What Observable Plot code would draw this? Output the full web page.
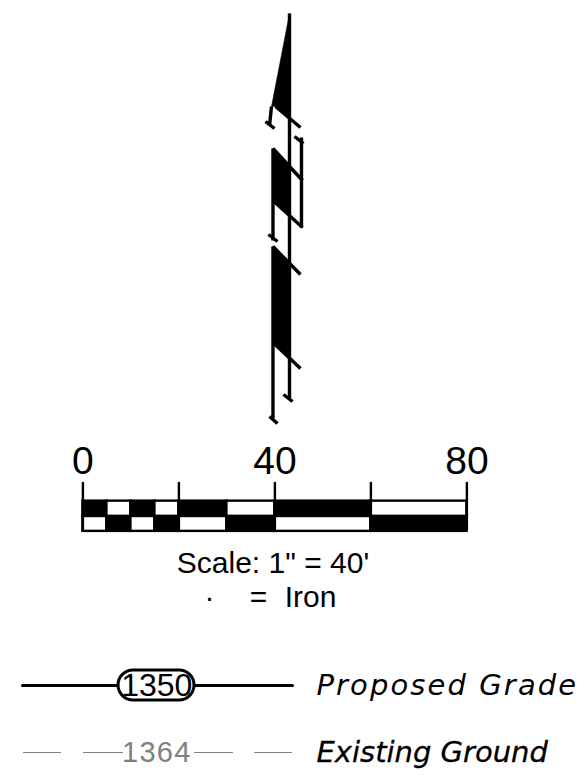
<!DOCTYPE html>
<html>
<head>
<meta charset="utf-8">
<script src="https://cdn.jsdelivr.net/npm/d3@7"></script>
<script src="https://cdn.jsdelivr.net/npm/@observablehq/plot@0.6"></script>
<style>
html,body{margin:0;padding:0;background:#fff}
svg{display:block}
</style>
</head>
<body>
<script>
// Drawing units are feet on the bar scale
const black = "#000";
const grey = "#808080";

// Filled cut regions
const cutAreas = [
  [[43.04,2.71],[39.29,22.08],[40.13,22.08],[43.04,24.79]],
  [[39.6,30.83],[43.04,35],[43.04,44.79],[39.6,41.67]],
  [[39.6,51.25],[43.04,54.79],[43.04,74.38],[39.6,71.25]]
];
// Line work
const sectionLines = [
  [[43.04,2.71],[43.04,82.92]],
  [[39.6,30.83],[39.6,50]],
  [[39.6,51.25],[39.6,87.08]],
  [[45.54,28.54],[45.54,47.29]],
  [[39.29,22.08],[38.88,26.04]],
  [[40.13,22.08],[45.33,26.46]],
  [[39.6,41.67],[45.75,47.29]],
  [[39.6,30.83],[45.75,37.5]],
  [[39.6,51.25],[45.33,57.08]],
  [[39.6,71.25],[45.33,76.67]],
  [[38.04,25.21],[39.92,26.67]],
  [[44.08,28.33],[45.96,29.79]],
  [[38.67,48.75],[40.54,50.21]],
  [[41.79,82.08],[43.67,83.54]],
  [[38.88,86.67],[40.54,88.13]]
];

// Bar scale
const scaleTicks = [0,20,40,60,80];
const scaleLabels = [0,40,80];
const cellStarts = [0,5,10,15,20,30,40,60];
const cellEnds   = [5,10,15,20,30,40,60,80];
const barTop = 104.3, barMid = 107.5, barBottom = 110.6, tickTop = 100.4;
const labelY = 96;

// Notes
const noteScale = "Scale: 1\" = 40'";
const noteSymbols = ["·","=","Iron"];
const noteSymbolX = [26.38,36.58,47.42];

// Legend
const proposedLine = [-12.58,43.67];
const proposedY = 142.7;
const pillX = [7.42,23.25], pillY = [139.58,145.83];
const existingSegs = [[-12.38,-4.67],[0.13,8.25],[23.25,31.17],[35.75,43.42]];
const existingY = 156.67;
const legendNames = ["Proposed Grade","Existing Ground"];
const legendNums = ["1350","1364"];
const textSpacing = {"Proposed Grade":"2.1px","1364":"1.3px"};

const cells = cellStarts.flatMap((s,i)=>[
  {x1:s,x2:cellEnds[i],y1:barTop,y2:barMid,fill:i%2?"#fff":black},
  {x1:s,x2:cellEnds[i],y1:barMid,y2:barBottom,fill:i%2?black:"#fff"}
]);
const areaRows = cutAreas.flatMap((p,i)=>p.map(d=>({id:i,x:d[0],y:d[1]})));
const lineRows = sectionLines.flatMap((p,i)=>p.map(d=>({id:i,x:d[0],y:d[1]})));
const segRows = existingSegs.flatMap((p,i)=>p.map(x=>({id:i,x,y:existingY})));

const chart = Plot.plot({
  width:587, height:783, margin:0,
  x:{domain:[-17.17,105.13],axis:null},
  y:{domain:[163.125,0],axis:null},
  marks:[
    Plot.line(areaRows,{x:"x",y:"y",z:"id",fill:black,stroke:black,strokeWidth:0.5,curve:"linear-closed"}),
    Plot.line(lineRows,{x:"x",y:"y",z:"id",stroke:black,strokeWidth:3.4,strokeLinecap:"butt"}),
    Plot.rect(cells,{x1:"x1",x2:"x2",y1:"y1",y2:"y2",fill:d=>d.fill,stroke:black,strokeWidth:2.4}),
    Plot.ruleX(scaleTicks,{x:d=>d,y1:tickTop,y2:barBottom,stroke:black,strokeWidth:2.4}),
    Plot.text(scaleLabels,{x:d=>d,y:labelY,text:d=>String(d),fontSize:39,fontFamily:"Liberation Sans",fill:black}),
    Plot.text([noteScale],{x:39.6,y:117.3,text:d=>d,fontSize:30,fontFamily:"Liberation Sans",fill:black}),
    Plot.text(noteSymbols,{x:(d,i)=>noteSymbolX[i],y:124.4,text:d=>d,fontSize:30,fontFamily:"Liberation Sans",fill:black}),
    Plot.line(proposedLine.map(x=>({x,y:proposedY})),{x:"x",y:"y",stroke:black,strokeWidth:3}),
    Plot.rect([0],{x1:pillX[0],x2:pillX[1],y1:pillY[0],y2:pillY[1],rx:15,fill:"#fff",stroke:black,strokeWidth:3}),
    Plot.text([legendNums[0]],{x:15.4,y:proposedY,text:d=>d,fontSize:32,fontFamily:"Liberation Sans",fill:black}),
    Plot.line(segRows,{x:"x",y:"y",z:"id",stroke:grey,strokeWidth:1.2}),
    Plot.text([legendNums[1]],{x:15.4,y:existingY,text:d=>d,fontSize:29,fontFamily:"Liberation Sans",fill:grey}),
    Plot.text([legendNames[0]],{x:48.67,y:proposedY,text:d=>d,textAnchor:"start",fontSize:29,fontStyle:"italic",fontFamily:"DejaVu Sans",fill:black}),
    Plot.text([legendNames[1]],{x:48.67,y:existingY,text:d=>d,textAnchor:"start",fontSize:29,fontStyle:"italic",fontFamily:"DejaVu Sans",fill:black,stroke:black,strokeWidth:0.3})
  ]
});
d3.select(chart).selectAll("text").each(function(){
  const s = textSpacing[this.textContent];
  if (s) this.style.letterSpacing = s;
});
document.body.appendChild(chart);
</script>
</body>
</html>
